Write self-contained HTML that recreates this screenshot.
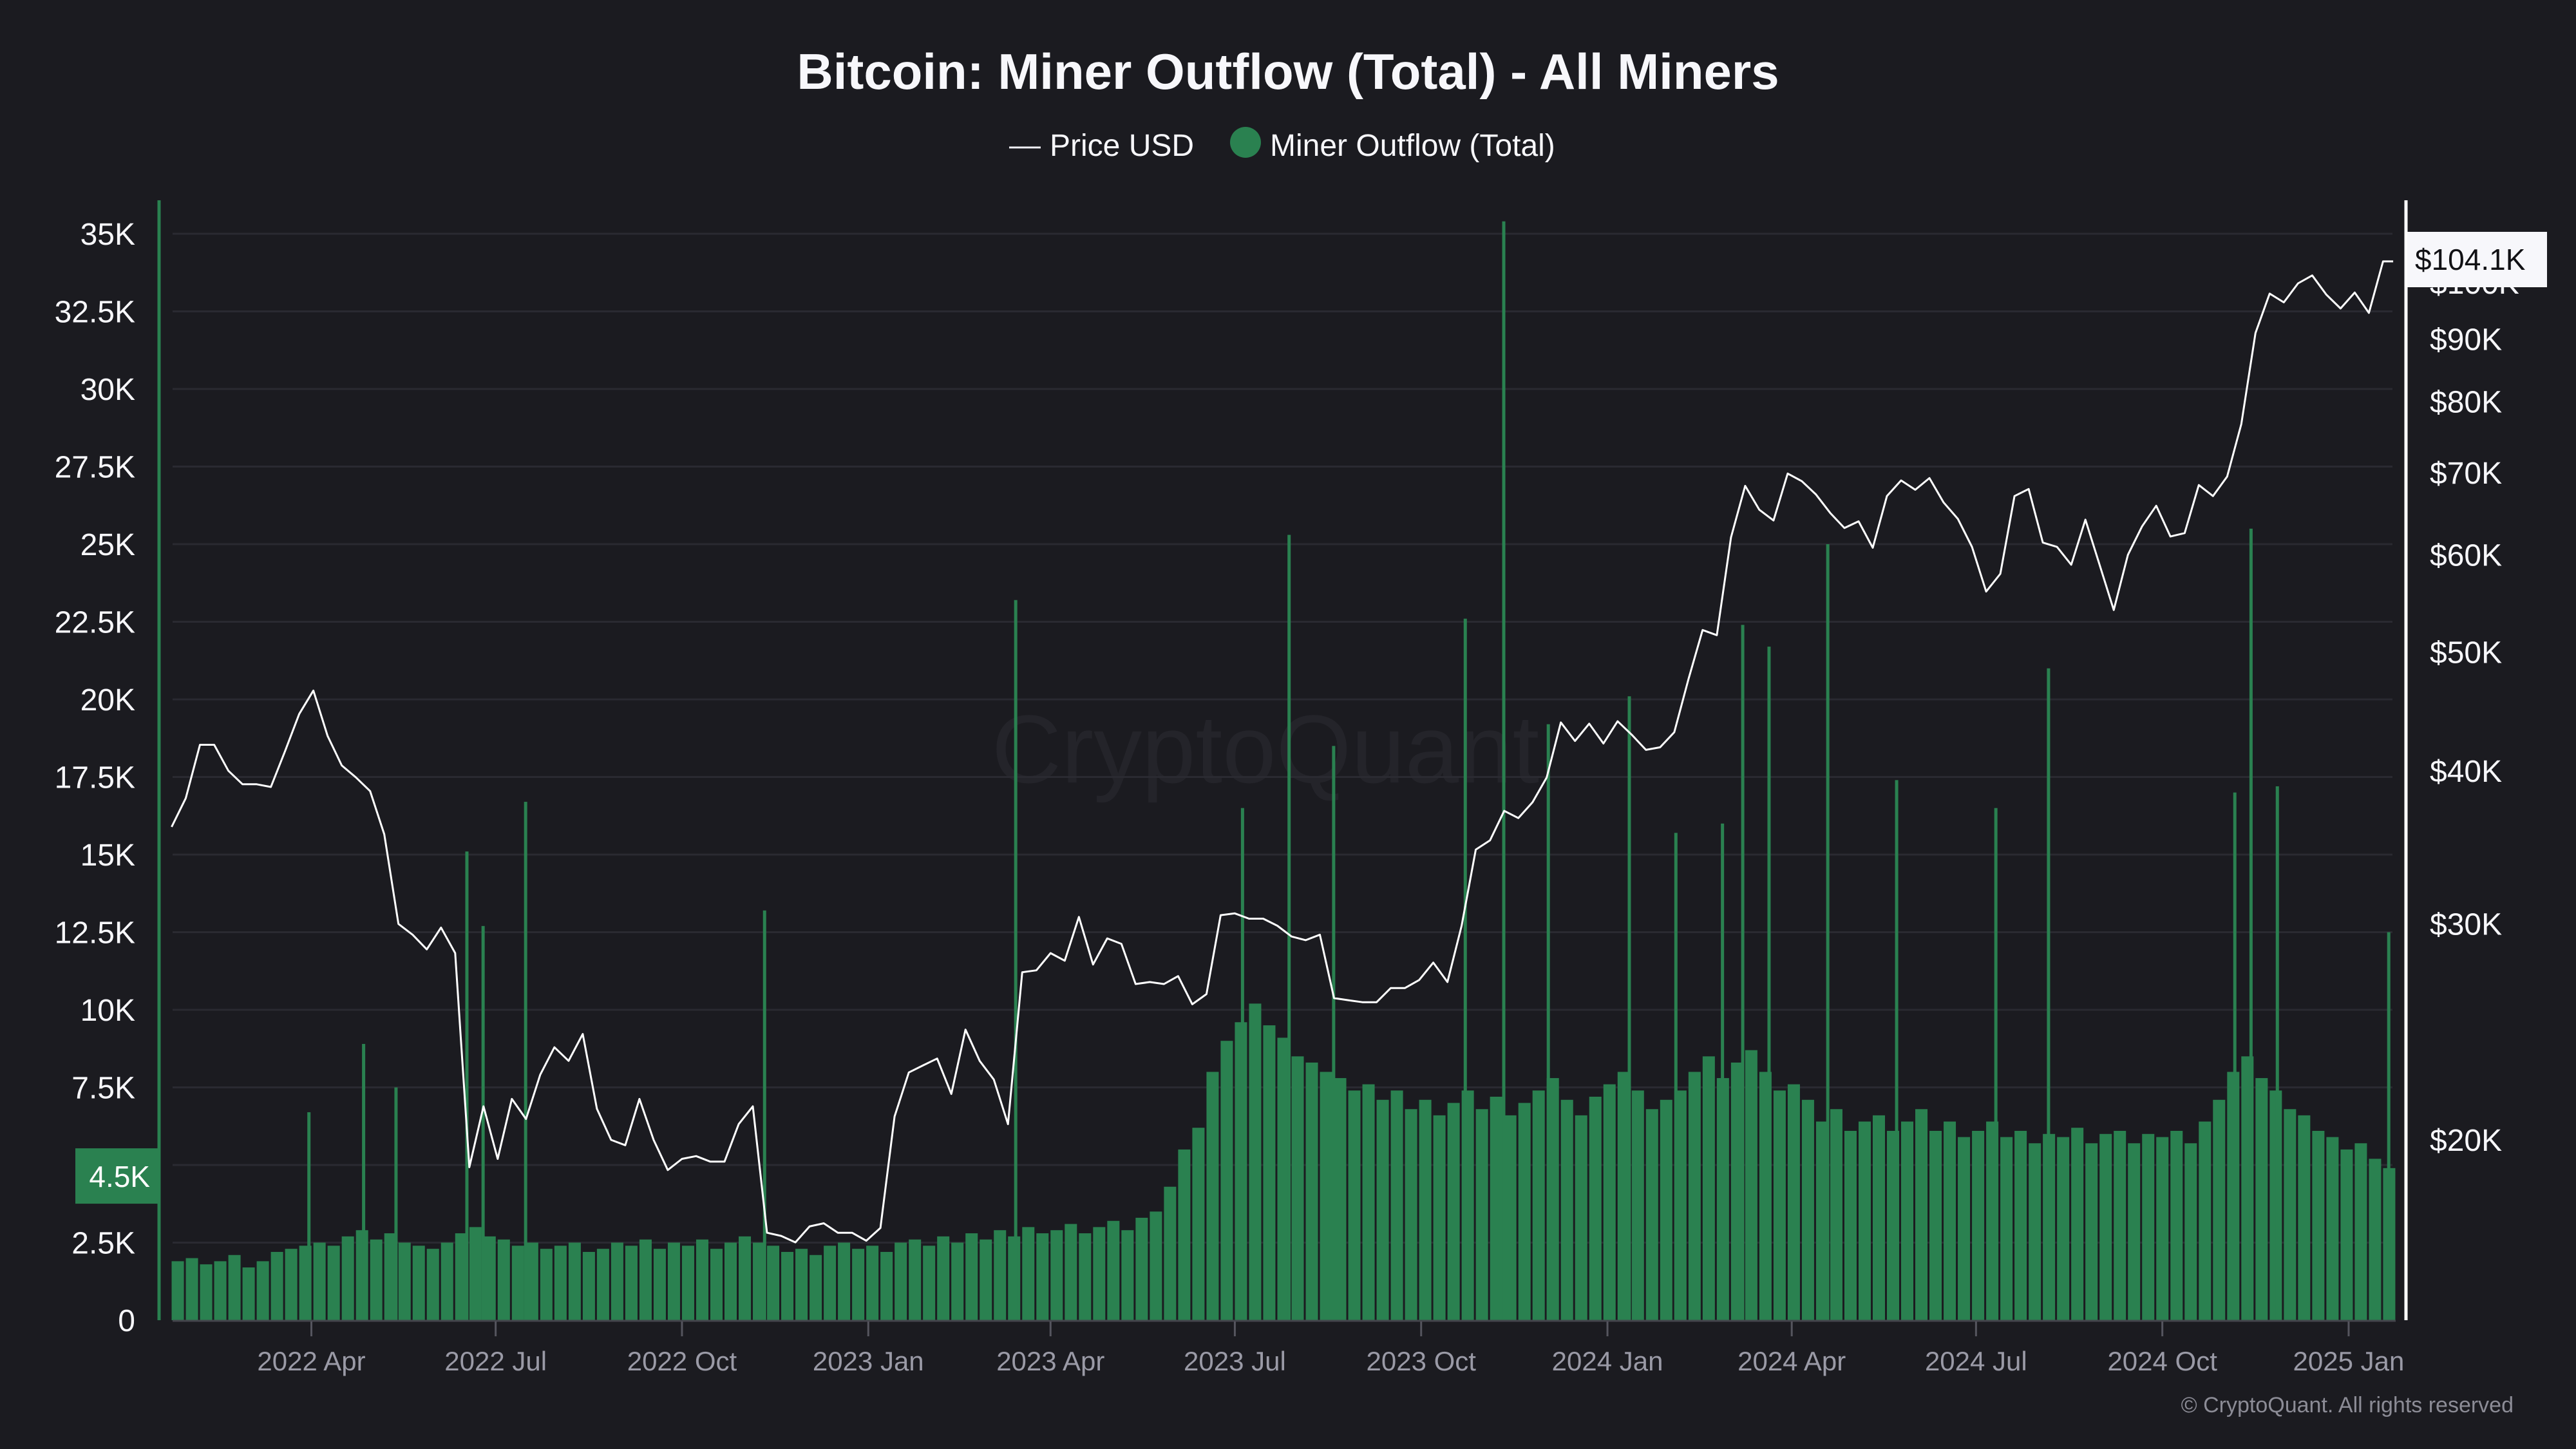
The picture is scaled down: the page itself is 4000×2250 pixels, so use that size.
<!DOCTYPE html>
<html><head><meta charset="utf-8">
<style>
html,body{margin:0;padding:0;background:#1b1b20;}
svg{display:block;font-family:"Liberation Sans",sans-serif;}
</style></head>
<body>
<svg id="chart" width="4000" height="2250" viewBox="0 0 4000 2250" xmlns="http://www.w3.org/2000/svg">
<rect x="0" y="0" width="4000" height="2250" fill="#1b1b20"/>
<text x="2000" y="138" text-anchor="middle" font-size="78" font-weight="bold" fill="#f7f7fb">Bitcoin: Miner Outflow (Total) - All Miners</text>
<g>
 <line x1="1567" y1="229" x2="1616" y2="229" stroke="#f0f0f5" stroke-width="3"/>
 <text x="1630" y="242" font-size="48" fill="#f7f7fb">Price USD</text>
 <ellipse cx="1934" cy="221" rx="24" ry="24" fill="#2a8150"/>
 <text x="1972" y="242" font-size="48" fill="#f7f7fb">Miner Outflow (Total)</text>
</g>
<text x="1965" y="1215" text-anchor="middle" font-size="150" fill="#24242a">CryptoQuant</text>
<g id="grid"></g>
<g id="bars"></g>
<g id="spikes"></g>
<g id="priceg"></g>
<g id="axes"></g>
<text x="3903" y="2193" text-anchor="end" font-size="34" fill="#8c8c96">© CryptoQuant. All rights reserved</text>
</svg>
<script>
const NS="http://www.w3.org/2000/svg";
// ---- data ----
const startDate="2022-01-22";
const priceWeekly=[36000,38000,42000,42000,40000,39000,39000,38800,41500,44500,46500,42700,40400,39500,38500,35500,30000,29400,28600,29800,28400,19000,21300,19300,21600,20800,22600,23800,23200,24400,21200,20000,19800,21600,20000,18900,19300,19400,19200,19200,20600,21300,16800,16700,16500,17000,17100,16800,16800,16550,
16950,20900,22700,23000,23300,21800,24600,23200,22400,20600,27400,27500,28400,28000,30400,27800,29200,28900,26800,26900,26800,27200,25800,26300,30500,30600,30300,30300,29900,29300,29100,29400,26100,26000,25900,25900,26600,26600,27000,27900,26900,29900,34500,35100,37100,36600,37700,39500,43800,42300,43700,42100,
43900,42800,41600,41800,43000,47500,52100,51600,62000,68300,65300,64000,69900,68900,67200,64900,63100,63900,60800,67000,69000,67800,69300,66200,64200,60900,56000,57900,67000,67900,61400,60900,58900,64100,58900,54100,60000,63300,65800,62100,62500,68400,67000,69500,76700,91000,98000,96400,99900,101400,97800,95300,98200,94500,104100,104100];
const outflowWeekly=[1.9,2.0,1.8,1.9,2.1,1.7,1.9,2.2,2.3,2.4,
2.5,2.4,2.7,2.9,2.6,2.8,2.5,2.4,2.3,
2.5,2.8,3.0,2.7,
2.6,2.4,2.5,2.3,2.4,2.5,2.2,2.3,2.5,2.4,2.6,2.3,2.5,
2.4,2.6,2.3,2.5,2.7,2.5,2.4,2.2,2.3,2.1,2.4,2.5,2.3,
2.4,2.2,2.5,2.6,2.4,2.7,2.5,2.8,2.6,2.9,2.7,3.0,2.8,
2.9,3.1,2.8,3.0,3.2,2.9,3.3,3.5,4.3,5.5,6.2,
8.0,9.0,9.6,10.2,9.5,9.1,8.5,8.3,8.0,7.8,7.4,7.6,7.1,7.4,6.8,
7.1,6.6,7.0,7.4,6.8,7.2,6.6,7.0,7.4,7.8,7.1,6.6,7.2,
7.6,8.0,7.4,6.8,7.1,7.4,8.0,8.5,7.8,8.3,8.7,8.0,7.4,
7.6,7.1,6.4,6.8,6.1,6.4,6.6,6.1,6.4,6.8,6.1,6.4,5.9,
6.1,6.4,5.9,6.1,5.7,6.0,5.9,6.2,5.7,6.0,6.1,5.7,6.0,
5.9,6.1,5.7,6.4,7.1,8.0,8.5,7.8,7.4,6.8,6.6,6.1,5.9,
5.5,5.7,5.2,4.9];
const spikeDates=["2023-11-10","2023-07-27","2023-03-14","2023-10-22","2024-03-07","2024-04-18","2024-11-13","2024-03-20","2024-08-05","2023-12-02","2024-01-11","2022-07-15","2022-06-16","2022-11-10","2024-11-05","2024-11-26","2025-01-20","2024-05-22","2024-02-03","2022-05-12","2022-03-30","2022-04-26","2022-06-24","2023-07-04","2023-08-18","2024-07-10","2024-02-26"];
const spikeValues=[35.4,25.3,23.2,22.6,22.4,25.0,25.5,21.7,21.0,19.2,20.1,16.7,15.1,13.2,17.0,17.2,12.5,17.4,15.7,7.5,6.7,8.9,12.7,16.5,18.5,16.5,16.0];
const leftTicks=[0,2.5,5,7.5,10,12.5,15,17.5,20,22.5,25,27.5,30,32.5,35];
const leftTickLabels=["0","2.5K","","7.5K","10K","12.5K","15K","17.5K","20K","22.5K","25K","27.5K","30K","32.5K","35K"];
const rightTicks=[20000,30000,40000,50000,60000,70000,80000,90000,100000];
const rightTickLabels=["$20K","$30K","$40K","$50K","$60K","$70K","$80K","$90K","$100K"];
const xTickDates=["2022-04-01","2022-07-01","2022-10-01","2023-01-01","2023-04-01","2023-07-01","2023-10-01","2024-01-01","2024-04-01","2024-07-01","2024-10-01","2025-01-01"];
const xTickLabels=["2022 Apr","2022 Jul","2022 Oct","2023 Jan","2023 Apr","2023 Jul","2023 Oct","2024 Jan","2024 Apr","2024 Jul","2024 Oct","2025 Jan"];
const lastPriceLabel="$104.1K";
const currentOutflowLabel="4.5K";
const currentOutflow=4.5;
// ---- scales ----
const DAY=86400000, ref=Date.UTC(2022,3,1);
function days(s){const p=s.split("-");return (Date.UTC(+p[0],+p[1]-1,+p[2])-ref)/DAY;}
const pxDay=3.1446;
function xS(d){return 483.5+d*pxDay;}
function yL(v){return 2050-v*(1687/35);}
function yR(p){return 1770-(Math.log10(p)-Math.log10(20000))*1904;}
const d0=days(startDate);
function mk(tag,attrs,parent){const e=document.createElementNS(NS,tag);for(const k in attrs)e.setAttribute(k,attrs[k]);parent.appendChild(e);return e;}
const grid=document.getElementById("grid"),bars=document.getElementById("bars"),sp=document.getElementById("spikes"),pg=document.getElementById("priceg"),ax=document.getElementById("axes");
leftTicks.forEach((v,i)=>{
 if(i===0)return;
 const l=mk("line",{x1:268,x2:3715,y1:yL(v),y2:yL(v),stroke:"#2a2a31","stroke-width":3},grid);
 
 
});
outflowWeekly.forEach((v,i)=>{
 const x=xS(d0+i*7);
 const r=mk("rect",{x:x,y:yL(v),width:7*pxDay-3,height:yL(0)-yL(v),fill:"#2a8150"},bars);
 
 
});
spikeDates.forEach((s,i)=>{
 const x=xS(days(s));
 const r=mk("rect",{x:x,y:yL(spikeValues[i]),width:5,height:yL(0)-yL(spikeValues[i]),fill:"#2a8150"},sp);
 
 
});
let dStr="";
priceWeekly.forEach((p,i)=>{
 let d=d0+i*7; if(i===priceWeekly.length-1)d=days("2025-01-23");
 dStr+=(i?"L":"M")+xS(d).toFixed(1)+","+yR(p).toFixed(1);
});
const pl=mk("path",{d:dStr,fill:"none",stroke:"#ffffff","stroke-width":3,"stroke-linejoin":"round"},pg);


const la=mk("line",{x1:247,x2:247,y1:311,y2:2050,stroke:"#2a8150","stroke-width":5},ax);


const ra=mk("line",{x1:3736,x2:3736,y1:311,y2:2050,stroke:"#ffffff","stroke-width":5},ax);


const ba=mk("line",{x1:268,x2:3720,y1:2051,y2:2051,stroke:"#44444c","stroke-width":3},ax);


leftTicks.forEach((v,i)=>{
 if(!leftTickLabels[i])return;
 const t=mk("text",{x:210,y:yL(v)+17,"text-anchor":"end","font-size":48,fill:"#f7f7fb"},ax);
 t.textContent=leftTickLabels[i];
 
 
});
rightTicks.forEach((v,i)=>{
 const t=mk("text",{x:3773,y:yR(v)+17,"font-size":48,fill:"#f7f7fb"},ax);
 t.textContent=rightTickLabels[i];
 
 
});
xTickDates.forEach((s,i)=>{
 const x=xS(days(s));
 const tk=mk("line",{x1:x,x2:x,y1:2052,y2:2075,stroke:"#55555e","stroke-width":3},ax);
 
 
 const t=mk("text",{x:x,y:2128,"text-anchor":"middle","font-size":42,fill:"#9a9aa6"},ax);
 t.textContent=xTickLabels[i];
 
 
});
const cy=yL(currentOutflow);
const gb=mk("rect",{x:117,y:cy-50,width:130,height:86,fill:"#2a8150"},ax);


const gt=mk("text",{x:233,y:cy+10,"text-anchor":"end","font-size":46,fill:"#ffffff"},ax);
gt.textContent=currentOutflowLabel;


const pb=mk("rect",{x:3738,y:360,width:217,height:86,fill:"#f7f7fb"},ax);


const pt=mk("text",{x:3750,y:419,"font-size":46,fill:"#111115"},ax);
pt.textContent=lastPriceLabel;


</script>
</body></html>
